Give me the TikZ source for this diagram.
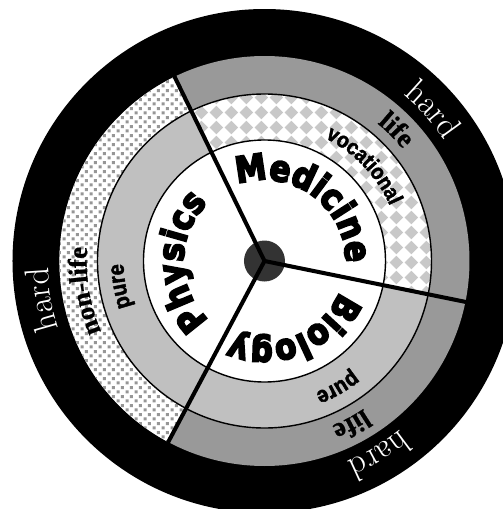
\documentclass[tikz,border=0pt]{standalone}
\usepackage{fontspec}
\usepackage{tikz}
\usetikzlibrary{patterns,decorations.text}
\newfontfamily\wheelHeavy{DejaVu Sans Bold}[FakeBold=5, FakeStretch=0.86]
\newfontfamily\ringSans{Liberation Sans Bold}[FakeBold=2, FakeStretch=0.88]
\newfontfamily\ringSerif{Liberation Serif Bold}[FakeBold=1]
\definecolor{wheelLife}{RGB}{153, 153, 153}
\definecolor{wheelPure}{RGB}{192, 192, 192}
\definecolor{wheelCheck}{RGB}{200, 200, 200}
\definecolor{wheelDots}{RGB}{150, 150, 150}
\definecolor{wheelHub}{RGB}{51, 51, 51}
\pgfdeclarepatternformonly{checker}{\pgfqpoint{0pt}{0pt}}{\pgfqpoint{8.5pt}{8.5pt}}{\pgfqpoint{8.5pt}{8.5pt}}{
    \pgfpathmoveto{\pgfqpoint{4.25pt}{0.4pt}}
    \pgfpathlineto{\pgfqpoint{8.1pt}{4.25pt}}
    \pgfpathlineto{\pgfqpoint{4.25pt}{8.1pt}}
    \pgfpathlineto{\pgfqpoint{0.4pt}{4.25pt}}
    \pgfpathclose
    \pgfusepath{fill}
}
\pgfdeclarepatternformonly{speckle}{\pgfqpoint{0pt}{0pt}}{\pgfqpoint{5pt}{5pt}}{\pgfqpoint{5pt}{5pt}}{
    \pgfpathrectangle{\pgfqpoint{0.3pt}{0.3pt}}{\pgfqpoint{1.8pt}{1.8pt}}
    \pgfpathrectangle{\pgfqpoint{2.8pt}{2.8pt}}{\pgfqpoint{1.8pt}{1.8pt}}
    \pgfusepath{fill}
}

\begin{document}
\begin{tikzpicture}[
        ringtext/.style={decorate, decoration={text along path, text align=center, text={#1}}},
        hardtext/.style={ringtext={#1}, decoration={text color=white}},
        divider/.style={line width=2.3pt, line cap=round},
        rim/.style={line width=0.8pt}
    ]
    \useasboundingbox (-5.29,-4.96) rectangle (4.77,5.22);
    \clip (-5.29,-4.96) rectangle (4.77,5.22);
    \coordinate (hub) at (0,0);

    \fill[black] (hub) circle (5.04);
    \fill[wheelLife] (hub) circle (4.10);
    \fill[white] (hub) -- (116:4.10) arc[start angle=116, end angle=242, radius=4.10] -- cycle;
    \fill[pattern=speckle, pattern color=wheelDots] (hub) -- (116:4.10) arc[start angle=116, end angle=242, radius=4.10] -- cycle;
    \fill[wheelPure] (hub) circle (3.34);
    \fill[white] (hub) -- (-11.5:3.34) arc[start angle=-11.5, end angle=116, radius=3.34] -- cycle;
    \fill[pattern=checker, pattern color=wheelCheck] (hub) -- (-11.5:3.34) arc[start angle=-11.5, end angle=116, radius=3.34] -- cycle;
    \draw[rim] (hub) circle (3.34);
    \draw[rim, fill=white] (hub) circle (2.42);
    \fill[wheelHub] (hub) circle (0.41);
    \foreach \a [count=\i] in {116,-11.5,242} {
        \coordinate (cut\i) at (\a:4.10);
        \draw[divider] (hub) -- (cut\i);
    }

    \path[ringtext={|\wheelHeavy\fontsize{20.5}{20.5}\selectfont|Medicine}] (114:1.62) arc[start angle=114, end angle=-6, radius=1.62];
    \path[ringtext={|\wheelHeavy\fontsize{20.5}{20.5}\selectfont|Physics}] (240.5:1.62) arc[start angle=240.5, end angle=120.5, radius=1.62];
    \path[ringtext={|\wheelHeavy\fontsize{20.5}{20.5}\selectfont|Biology}] (-8:1.62) arc[start angle=-8, end angle=-128, radius=1.62];

    \path[ringtext={|\ringSans\fontsize{12.5}{12.5}\selectfont|vocational}] (78.7:2.74) arc[start angle=78.7, end angle=8.7, radius=2.74];
    \path[ringtext={|\ringSans\fontsize{13}{13}\selectfont|pure}] (215:2.82) arc[start angle=215, end angle=165, radius=2.82];
    \path[ringtext={|\ringSans\fontsize{13}{13}\selectfont|pure}] (-35:2.82) arc[start angle=-35, end angle=-85, radius=2.82];

    \path[ringtext={|\ringSerif\fontsize{15.5}{15.5}\selectfont|life}] (64.8:3.56) arc[start angle=64.8, end angle=24.8, radius=3.56];
    \path[ringtext={|\ringSerif\fontsize{15.5}{15.5}\selectfont|life}] (-42:3.56) arc[start angle=-42, end angle=-82, radius=3.56];
    \path[ringtext={|\ringSerif\fontsize{15}{15}\selectfont|non-life}] (219.5:3.56) arc[start angle=219.5, end angle=159.5, radius=3.56];

    \path[hardtext={|\fontsize{19.5}{19.5}\selectfont|hard}] (66.9:4.33) arc[start angle=66.9, end angle=16.9, radius=4.33];
    \path[hardtext={|\fontsize{19.5}{19.5}\selectfont|hard}] (214.8:4.33) arc[start angle=214.8, end angle=164.8, radius=4.33];
    \path[hardtext={|\fontsize{19.5}{19.5}\selectfont|hard}] (-34.3:4.33) arc[start angle=-34.3, end angle=-84.3, radius=4.33];
\end{tikzpicture}
\end{document}
